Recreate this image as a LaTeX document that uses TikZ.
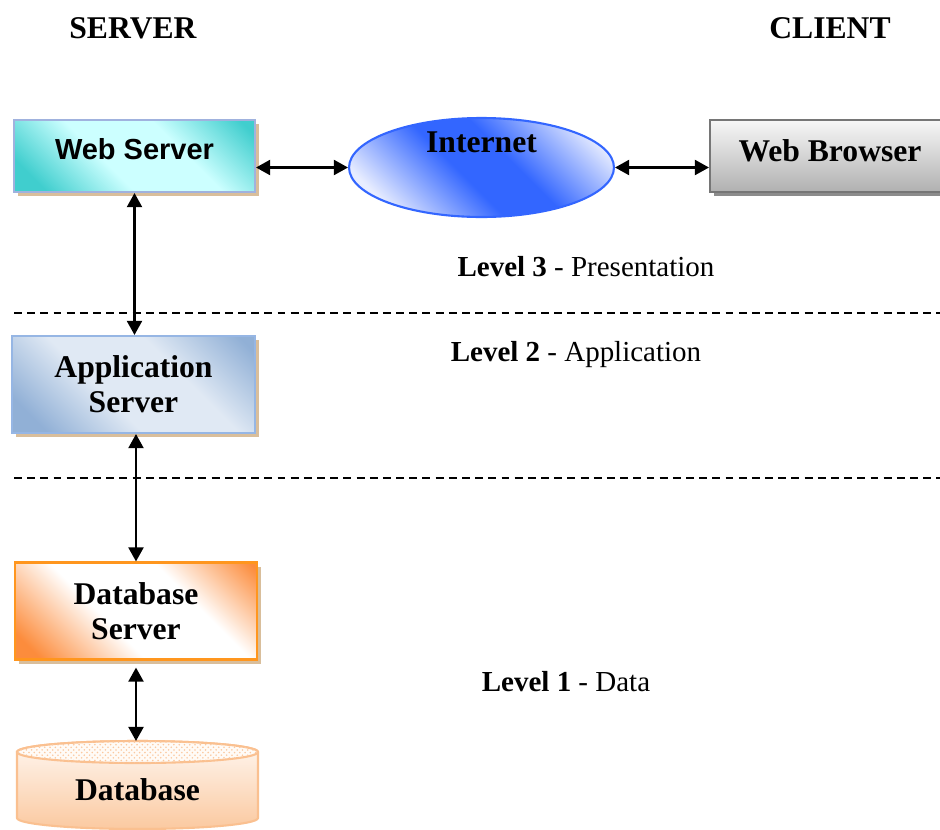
\documentclass[tikz,border=0pt]{standalone}
\usepackage{fontspec}
\setmainfont{Liberation Serif}
\newfontfamily\arialfont{Liberation Sans}
\usetikzlibrary{shapes, arrows.meta, positioning, calc, patterns, shadows}

\definecolor{wsteal}{RGB}{64,206,206}
\definecolor{wscyan}{RGB}{204,255,255}
\definecolor{wsedge}{RGB}{160,178,222}
\definecolor{shadetan}{RGB}{217,190,155}
\definecolor{netblue}{RGB}{51,102,255}
\definecolor{netpale}{RGB}{232,237,255}
\definecolor{appblue}{RGB}{145,176,214}
\definecolor{applight}{RGB}{224,233,244}
\definecolor{appedge}{RGB}{150,182,228}
\definecolor{dborange}{RGB}{255,150,30}
\definecolor{dbwarm}{RGB}{252,140,60}
\definecolor{dbpeach}{RGB}{251,201,160}
\definecolor{dbedge}{RGB}{250,192,144}
\definecolor{wbedge}{RGB}{118,118,118}

% light band across the box, darker corners
\pgfdeclarehorizontalshading{wsband}{100bp}{color(0bp)=(wsteal); color(22bp)=(wsteal); color(42bp)=(wscyan); color(62bp)=(wscyan); color(82bp)=(wsteal); color(100bp)=(wsteal)}
\pgfdeclarehorizontalshading{netband}{100bp}{color(0bp)=(netpale); color(24bp)=(netpale); color(45bp)=(netblue); color(57bp)=(netblue); color(78bp)=(netpale); color(100bp)=(netpale)}
\pgfdeclarehorizontalshading{appband}{100bp}{color(0bp)=(appblue); color(22bp)=(appblue); color(42bp)=(applight); color(62bp)=(applight); color(82bp)=(appblue); color(100bp)=(appblue)}
\pgfdeclarehorizontalshading{dbband}{100bp}{color(0bp)=(dbwarm); color(20bp)=(dbwarm); color(42bp)=(white); color(64bp)=(white); color(84bp)=(dbwarm); color(100bp)=(dbwarm)}

\tikzset{
  tierbox/.style={rectangle, minimum width=4.84cm, minimum height=1.94cm, line width=1.2pt,
    align=center, font=\fontsize{18}{20}\selectfont\bfseries, shading angle=45,
    general shadow={fill=shadetan, shadow xshift=2.3pt, shadow yshift=-2.3pt}},
  link/.style={{Triangle[length=8pt,width=8.5pt]}-{Triangle[length=8pt,width=8.5pt]}, line width=1.3pt},
  levelsep/.style={dash pattern=on 4.5pt off 3pt, line width=0.7pt},
  leveltext/.style={font=\fontsize{16.5}{19}\selectfont},
  sidetitle/.style={font=\fontsize{18}{20}\selectfont\bfseries},
}

\begin{document}
\begin{tikzpicture}[x=0.02cm, y=-0.02cm]
  \useasboundingbox (0,0) rectangle (940,829);

  \node[sidetitle] (server) at (133,28) {SERVER};
  \node[sidetitle] (client) at (830,28) {CLIENT};

  % presentation level
  \node[tierbox, draw=wsedge, shading=wsband, minimum width=4.82cm, minimum height=1.44cm, text depth=0.28cm,
    font=\arialfont\fontsize{16.5}{19}\selectfont\bfseries] (ws) at (134.5,156) {Web Server};
  \node[ellipse, draw=netblue, line width=1.2pt, shading=netband, shading angle=45,
    minimum width=5.3cm, minimum height=1.98cm] (net) at (481.5,167.5) {};
  \node[font=\fontsize{18}{20}\selectfont\bfseries] (nettext) at ([yshift=0.5cm]net.center) {Internet};
  \node[tierbox, draw=wbedge, top color=gray!6, bottom color=gray!62, minimum width=4.8cm,
    minimum height=1.44cm, text depth=0.2cm,
    general shadow={fill=gray!90, shadow xshift=2.3pt, shadow yshift=-2.3pt}]
    (wb) at (830,156) {Web Browser};

  \draw[link] (net.west -| ws.east) -- (net.west);
  \draw[link] (net.east) -- (net.east -| wb.west);

  \node[leveltext] (lvl3) at (586,267) {\textbf{Level 3} - Presentation};
  \draw[levelsep] (14,313) coordinate (sep3) -- (940,313) coordinate (sep3e);

  % application level
  \node[tierbox, draw=appedge, shading=appband, minimum width=4.86cm] (app) at (133.5,384.5) {Application\\Server};
  \node[leveltext] (lvl2) at (576,355) {\textbf{Level 2} - Application};
  \draw[link] (ws.south) -- (ws.south |- app.north);

  \draw[levelsep] (14,478) coordinate (sep2) -- (940,478) coordinate (sep2e);

  % data level
  \node[tierbox, draw=dborange, shading=dbband] (dbs) at (136,611) {Database\\Server};
  \draw[link] (app.south -| dbs.north) -- (dbs.north);
  \node[leveltext] (lvl1) at (566,682) {\textbf{Level 1} - Data};

  % database cylinder
  \coordinate (dbtop) at (136,741);
  \path[draw=dbedge, line width=1.2pt, top color=white!85!dbpeach, bottom color=dbpeach]
    (17,752) -- (17,818) arc[start angle=180, end angle=360, x radius=2.41cm, y radius=0.22cm]
    -- (258,752) arc[start angle=0, end angle=180, x radius=2.41cm, y radius=0.22cm] -- cycle;
  \draw[draw=dbedge, line width=1.2pt, fill=white!92!dbpeach,
    postaction={pattern=crosshatch dots, pattern color=dbpeach}]
    (137.5,752) ellipse[x radius=2.41cm, y radius=0.22cm];
  \node[font=\fontsize{18}{20}\selectfont\bfseries] (db) at (137.5,790) {Database};
  \draw[link] ([yshift=-4pt]dbs.south) -- (dbtop);
\end{tikzpicture}
\end{document}
